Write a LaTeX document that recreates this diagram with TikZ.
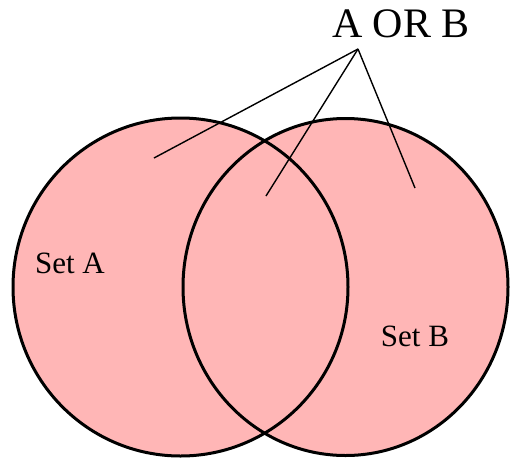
\documentclass[tikz,border=0pt]{standalone}
\usepackage{fontspec}
\setmainfont{Liberation Serif}
\definecolor{setpink}{RGB}{255,182,182}
\begin{document}
\begin{tikzpicture}[x=1pt,y=-1pt,
  setfill/.style={fill=setpink},
  setline/.style={draw=black,line width=3pt},
  pointer/.style={draw=black,line width=1.4pt},
  lbl/.style={inner sep=0pt,font=\fontsize{31}{31}\selectfont},
  ttl/.style={inner sep=0pt,font=\fontsize{42}{42}\selectfont}]
\useasboundingbox (0,0) rectangle (511,461);
\begin{scope}
\clip (0,0) rectangle (511,461);
\fill[setfill] (180.5,287) ellipse [x radius=167.5, y radius=169];
\fill[setfill] (345.5,287) ellipse [x radius=162.5, y radius=168.5];
\draw[setline] (180.5,287) ellipse [x radius=167.5, y radius=169];
\draw[setline] (345.5,287) ellipse [x radius=162.5, y radius=168.5];
\end{scope}
\node[ttl] (title) at (401,24) {A OR B};
\coordinate (apex) at (358,49);
\coordinate (ea) at (154,158);
\coordinate (eab) at (266,196);
\coordinate (eb) at (415,188);
\draw[pointer] (apex) -- (ea);
\draw[pointer] (apex) -- (eab);
\draw[pointer] (apex) -- (eb);
\node[lbl] (seta) at (70,263) {Set A};
\node[lbl] (setb) at (415,336) {Set B};
\end{tikzpicture}
\end{document}
